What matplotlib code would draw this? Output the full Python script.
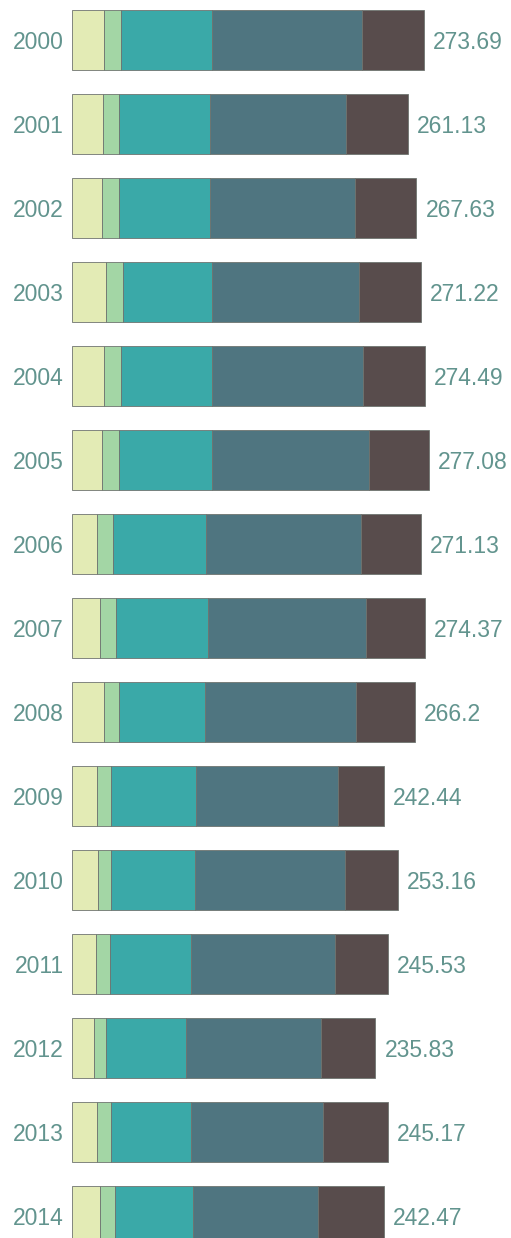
import matplotlib.pyplot as plt
import numpy as np

years = ['2000', '2001', '2002', '2003', '2004', '2005', '2006', '2007',
         '2008', '2009', '2010', '2011', '2012', '2013', '2014']
totals = [273.69, 261.13, 267.63, 271.22, 274.49, 277.08, 271.13, 274.37,
          266.2, 242.44, 253.16, 245.53, 235.83, 245.17, 242.47]

# segment values (last one is whatever is left of the total)
seg1 = [25.4, 24.4, 23.9, 26.5, 25.4, 23.9, 20.0, 21.9, 25.4, 19.8, 20.6, 19.2, 17.7, 20.0, 22.1]
seg2 = [12.7, 12.6, 12.7, 13.2, 13.0, 13.0, 12.2, 12.4, 11.4, 10.9, 10.1, 10.4, 9.1, 10.6, 11.4]
seg3 = [70.8, 70.6, 71.1, 69.5, 70.8, 72.4, 72.1, 71.6, 66.7, 65.7, 65.4, 63.3, 61.8, 61.8, 61.0]
seg4 = [116.1, 105.5, 112.5, 113.8, 116.9, 121.3, 120.2, 122.6, 117.4, 110.4, 116.1, 111.2, 104.7, 102.6, 96.5]
seg5 = [48.7, 48.0, 47.4, 48.2, 48.4, 46.5, 46.6, 45.9, 45.3, 35.6, 41.0, 41.4, 42.5, 50.2, 51.5]

colors = ['#e3ebb5', '#a3d6a5', '#3aa9a8', '#4f7580', '#584c4c']
txt = '#62948e'

plt.rcParams['font.family'] = ['Liberation Sans', 'DejaVu Sans']

fig = plt.figure(figsize=(5.11, 12.38), dpi=100)
ax = fig.add_axes([0, 0, 1, 1])

y = np.arange(len(years))
left = np.zeros(len(years))
for vals, c in zip([seg1, seg2, seg3, seg4, seg5], colors):
    ax.barh(y, vals, left=left, height=0.714, color=c,
            edgecolor='#6f7470', linewidth=0.6)
    left += np.array(vals)

for i in range(len(years)):
    ax.annotate(years[i], xy=(0, y[i]), xytext=(-5.5, -1.5),
                textcoords='offset points', ha='right', va='center',
                fontsize=16.5, color=txt)
    ax.annotate(f'{totals[i]:g}', xy=(left[i], y[i]), xytext=(6.5, -1.5),
                textcoords='offset points', ha='left', va='center',
                fontsize=16.5, color=txt)

ax.set_xlim(-55.47, 340.95)
ax.set_ylim(14.262, -0.476)
ax.axis('off')

fig.savefig('out.png', dpi=100)
